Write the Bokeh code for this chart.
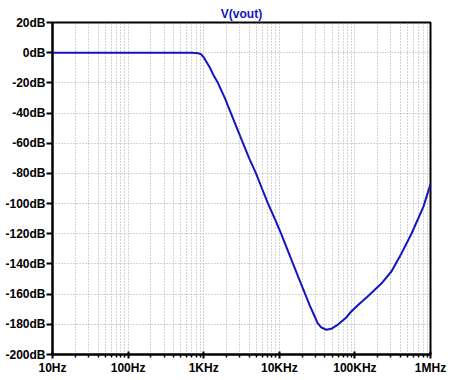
from bokeh.plotting import figure
from bokeh.models import FixedTicker, Range1d
from bokeh.embed import file_html
from bokeh.resources import INLINE

# data
freq_hz = [10, 100, 500, 700, 840, 920, 1000, 1100, 1210, 1350, 1540, 1900, 2290, 2750, 3310,
           4000, 4920, 5900, 7100, 8700, 10600, 12700, 15200, 18300, 22000, 25000, 28900, 32000,
           35800, 41800, 48700, 60300, 75000, 89600, 114000, 151000, 224000, 304000, 413000,
           560000, 807000, 1000000]
vout_db = [0, 0, 0, -0.1, -0.3, -1, -3, -6.5, -10, -15, -20, -30, -40, -50, -60,
           -70, -80, -90, -100, -110, -120, -130, -140, -150, -160, -167, -174, -179,
           -182, -183.6, -183, -180, -176, -171.5, -166.5, -161, -153, -145, -133,
           -120, -102, -87]

x_tick_values = [10, 100, 1000, 10000, 100000, 1000000]
x_tick_labels = ["10Hz", "100Hz", "1KHz", "10KHz", "100KHz", "1MHz"]
y_tick_values = [20, 0, -20, -40, -60, -80, -100, -120, -140, -160, -180, -200]
y_tick_labels = ["20dB", "0dB", "-20dB", "-40dB", "-60dB", "-80dB", "-100dB", "-120dB",
                 "-140dB", "-160dB", "-180dB", "-200dB"]
title_text = "V(vout)"

minor_x = [m * d for d in [10, 100, 1000, 10000, 100000] for m in range(2, 10)]

BLUE = "#1414c0"
FONT = "Liberation Sans"

p = figure(width=450, height=380, x_axis_type="log", output_backend="svg",
           toolbar_location=None, x_range=Range1d(10, 1e6), y_range=Range1d(-200, 20),
           min_border_left=52, min_border_right=20, min_border_top=22, min_border_bottom=26)

p.title.text = title_text
p.title.align = "center"
p.title.text_color = BLUE
p.title.text_font = FONT
p.title.text_font_size = "12px"
p.title.text_font_style = "bold"
p.title.standoff = 3

p.line(freq_hz, vout_db, line_color=BLUE, line_width=2)

p.xaxis.ticker = FixedTicker(ticks=x_tick_values, minor_ticks=minor_x)
p.yaxis.ticker = FixedTicker(ticks=y_tick_values)
p.xaxis.major_label_overrides = {float(v): l for v, l in zip(x_tick_values, x_tick_labels)}
p.yaxis.major_label_overrides = {v: l for v, l in zip(y_tick_values, y_tick_labels)}

for ax in (p.xaxis, p.yaxis):
    ax.axis_line_color = "black"
    ax.axis_line_width = 2
    ax.major_tick_line_color = "black"
    ax.major_tick_line_width = 2
    ax.minor_tick_line_color = "black"
    ax.minor_tick_line_width = 1.5
    ax.major_label_text_font = FONT
    ax.major_label_text_font_style = "bold"
    ax.major_label_text_font_size = "12px"
    ax.major_label_text_color = "black"

p.xaxis.major_tick_out = 4
p.xaxis.major_tick_in = 3
p.xaxis.minor_tick_out = 3
p.xaxis.minor_tick_in = 0
p.xaxis.major_label_standoff = 2
p.yaxis.major_tick_out = 6
p.yaxis.major_tick_in = 0
p.yaxis.minor_tick_line_color = None
p.yaxis.major_label_standoff = 1

p.xgrid.grid_line_color = "#a8a8a8"
p.xgrid.grid_line_dash = "1 2"
p.xgrid.grid_line_width = 1
p.xgrid.minor_grid_line_color = "#a8a8a8"
p.xgrid.minor_grid_line_dash = "1 2"
p.ygrid.grid_line_color = "#a8a8a8"
p.ygrid.grid_line_dash = "1 2"

p.outline_line_color = "black"
p.outline_line_width = 2
p.outline_line_alpha = 1
p.background_fill_color = "white"
p.border_fill_color = "white"

open("out.html", "w").write(file_html(p, INLINE))
